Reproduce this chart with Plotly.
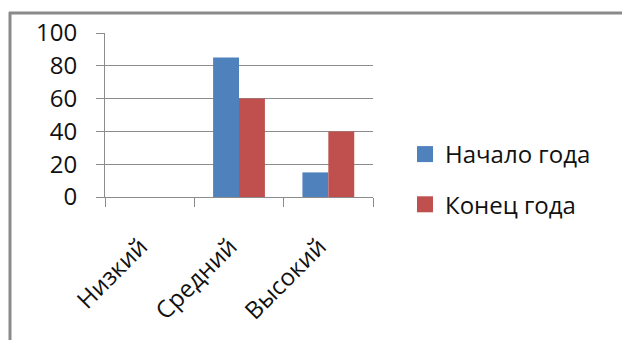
import plotly.graph_objects as go

# Уровни и доли учащихся (%)
categories = ["Низкий", "Средний", "Высокий"]
start_year = [0, 85, 15]
end_year = [0, 60, 40]
series_names = ["Начало года", "Конец года"]
y_ticks = [0, 20, 40, 60, 80, 100]

FONT = "Open Sans"
GRID = "#8c8c8c"
COLORS = ["#4F81BD", "#C0504D"]

fig = go.Figure()
for vals, name, color in zip([start_year, end_year], series_names, COLORS):
    fig.add_trace(go.Bar(x=categories, y=vals, name=name,
                         marker=dict(color=color, line=dict(width=0)),
                         showlegend=False))

# Legend keys: larger square swatches for each series
for name, color, grp in zip(series_names, COLORS, ["a", "b"]):
    fig.add_trace(go.Scatter(x=[None], y=[None], name=name, mode="markers",
                             marker=dict(symbol="square", size=16, color=color,
                                         line=dict(width=0)),
                             legendgroup=grp, hoverinfo="skip"))

W, H = 622, 340
L, R, T, B = 105, 249, 33, 143
pw, ph = W - L - R, H - T - B


def px_x(x):
    return (x - L) / pw


def px_y(y):
    return (H - B - y) / ph


fig.update_layout(
    width=W, height=H,
    margin=dict(l=L, r=R, t=T, b=B),
    paper_bgcolor="white", plot_bgcolor="white",
    font=dict(family=FONT, size=24, color="#111111"),
    barmode="group", bargap=0.42, bargroupgap=0,
    showlegend=True,
    legend=dict(x=px_x(405), y=px_y(132), xanchor="left", yanchor="top",
                traceorder="grouped", tracegroupgap=16,
                font=dict(family=FONT, size=24, color="#111111"),
                bgcolor="rgba(0,0,0,0)"),
    xaxis=dict(type="category", showline=True, linecolor=GRID, linewidth=1,
               ticks="outside", tickson="boundaries", ticklen=9,
               tickcolor=GRID, tickangle=-45, ticklabelstandoff=25,
               ticklabelshift=-9, showgrid=False),
    yaxis=dict(range=[0, 100], tickvals=y_ticks, showline=True,
               linecolor=GRID, linewidth=1, ticks="outside", ticklen=8,
               tickcolor=GRID, showgrid=True, gridcolor=GRID, gridwidth=1,
               zeroline=False, ticklabelstandoff=14),
    shapes=[
        dict(type="line", xref="paper", yref="paper",
             x0=px_x(9), x1=px_x(W + 5), y0=px_y(13), y1=px_y(13),
             line=dict(color="#8a8a8a", width=3)),
        dict(type="line", xref="paper", yref="paper",
             x0=px_x(10), x1=px_x(10), y0=px_y(12), y1=px_y(H + 5),
             line=dict(color="#8a8a8a", width=3)),
    ],
)

fig.write_html("out.html")
